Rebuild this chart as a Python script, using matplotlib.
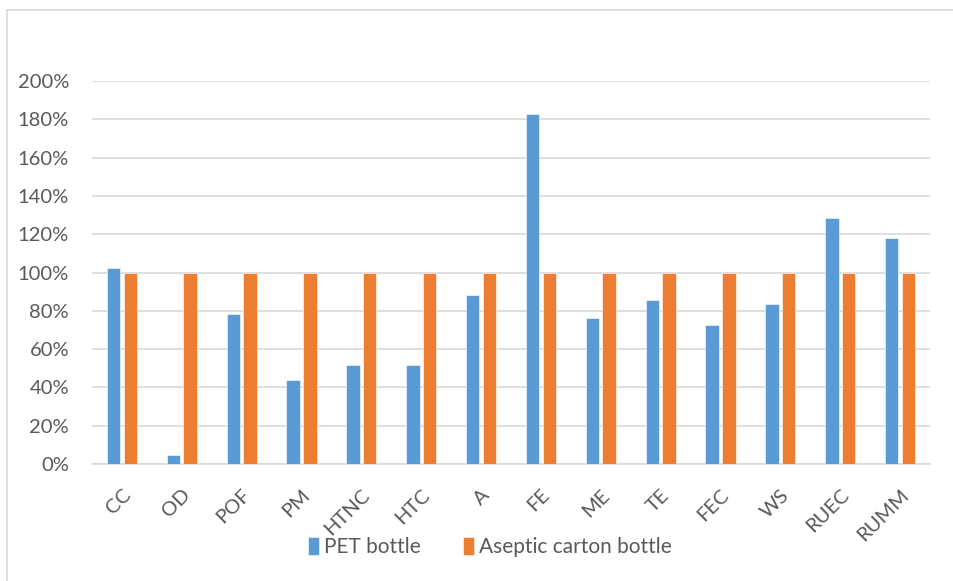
import matplotlib
matplotlib.use("Agg")
import matplotlib.pyplot as plt
import numpy as np
from matplotlib.lines import Line2D
from matplotlib.ticker import FuncFormatter

categories = ["CC", "OD", "POF", "PM", "HTNC", "HTC", "A", "FE", "ME", "TE",
              "FEC", "WS", "RUEC", "RUMM"]
pet_bottle = [102.3, 4.5, 78.3, 43.9, 51.5, 51.5, 88.4, 183.0, 76.2, 85.8,
              72.8, 83.5, 128.6, 118.2]
carton_bottle = [100, 100, 100, 100, 100, 100, 100, 100, 100, 100,
                 100, 100, 100, 100]
series_names = ["PET bottle", "Aseptic carton bottle"]

BLUE = "#5B9BD5"
ORANGE = "#ED7D31"
GRID = "#D9D9D9"
TEXT = "#595959"

plt.rcParams["font.family"] = ["Lato", "DejaVu Sans"]

W, H = 954, 581
fig = plt.figure(figsize=(W / 100, H / 100), dpi=100)
ax = fig.add_axes([92 / W, 1 - 464 / H, (930 - 92) / W, (464 - 81) / H])

x = np.arange(len(categories))
bw = 0.225
ax.bar(x - 0.14, pet_bottle, bw, color=BLUE, edgecolor="white",
       linewidth=0.4, label=series_names[0], zorder=3)
ax.bar(x + 0.14, carton_bottle, bw, color=ORANGE, edgecolor="white",
       linewidth=0.4, label=series_names[1], zorder=3)

ax.set_xlim(-0.5, len(categories) - 0.5)
ax.set_ylim(0, 200)
ax.set_yticks(np.arange(0, 201, 20))
ax.yaxis.set_major_formatter(FuncFormatter(lambda v, _: f"{v:.0f}%"))
ax.grid(True, axis="y", color=GRID, linewidth=1.2, zorder=0)
for s in ["top", "right", "left"]:
    ax.spines[s].set_visible(False)
ax.spines["bottom"].set_color(GRID)
ax.spines["bottom"].set_linewidth(1.2)
ax.tick_params(axis="both", length=0, colors=TEXT, labelsize=14.5)
ax.tick_params(axis="y", pad=16.5)
ax.set_xticks(x)
ax.set_xticklabels(categories, rotation=45, ha="right", va="top",
                   rotation_mode="anchor")
ax.tick_params(axis="x", pad=16)

leg = fig.legend(loc="center", bbox_to_anchor=(490 / W, 1 - 547 / H),
                 ncol=2, frameon=False, fontsize=15, handlelength=0.55,
                 handleheight=1.0, handletextpad=0.25, columnspacing=2.0)
for t in leg.get_texts():
    t.set_color(TEXT)

# outer chart border (left and top edges visible)
fig.add_artist(Line2D([7 / W, 7 / W], [0, 1 - 10 / H], color=GRID,
                      linewidth=1.2, transform=fig.transFigure))
fig.add_artist(Line2D([7 / W, 1], [1 - 10 / H, 1 - 10 / H], color=GRID,
                      linewidth=1.2, transform=fig.transFigure))

fig.savefig("out.png", dpi=100)
